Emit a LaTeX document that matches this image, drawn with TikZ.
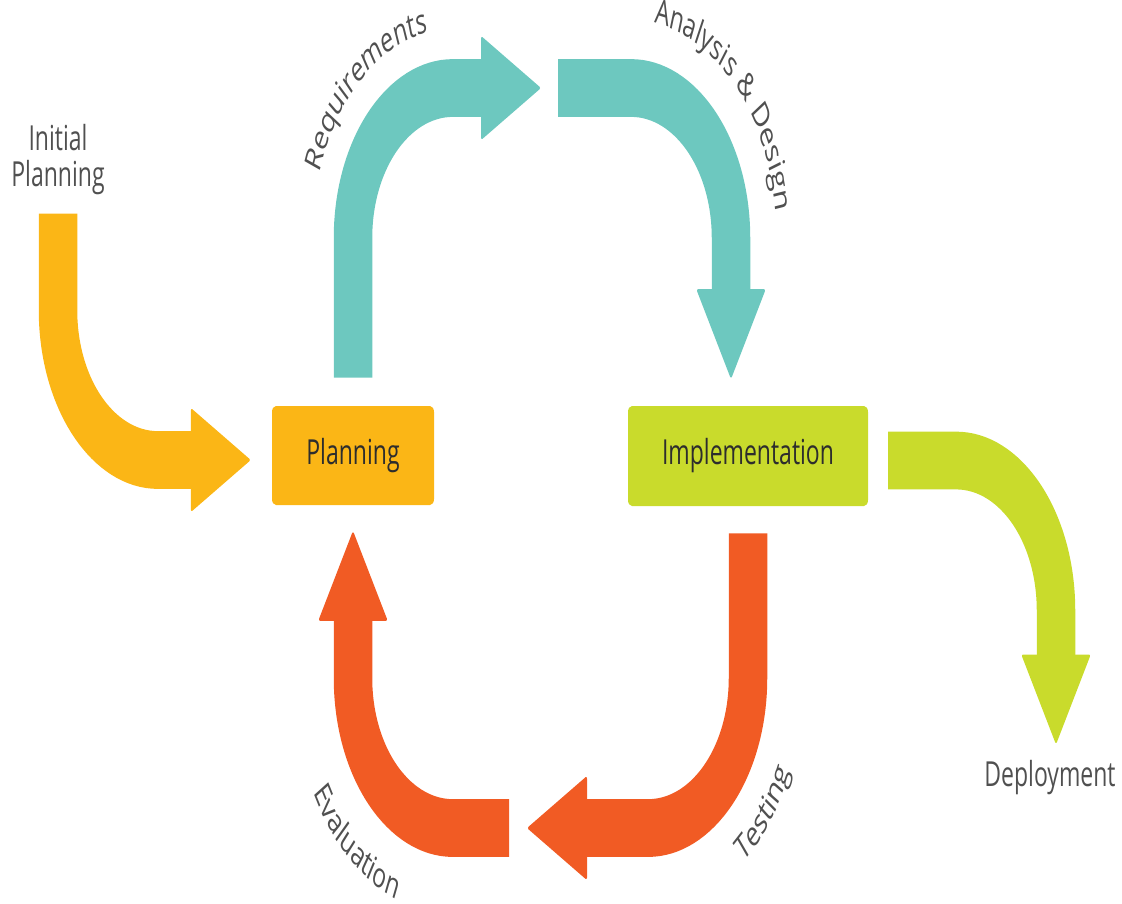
\documentclass[tikz,border=0pt]{standalone}
\usepackage{fontspec}
\setmainfont{Open Sans}
\usetikzlibrary{arrows.meta}
\definecolor{custom-yellow}{RGB}{251, 182, 22}
\definecolor{custom-teal}{RGB}{109, 200, 191}
\definecolor{custom-lime}{RGB}{201, 219, 44}
\definecolor{custom-orange}{RGB}{241, 91, 36}
\definecolor{custom-gray}{RGB}{80, 80, 80}
\definecolor{custom-dark}{RGB}{45, 45, 45}
\newcommand{\lblfont}{\fontsize{23}{27}\selectfont}
\newdimen\chrw
\newdimen\chrtot
% angle of each letter round an arc: list name, radius, middle angle, sense (+1 ccw, -1 cw), letters
\newcommand{\arcprep}[5]{%
  \global\chrtot=0pt
  \foreach \chr in {#5}{\settowidth{\chrw}{\lblfont\chr}\global\advance\chrtot by \chrw}%
  \pgfmathsetmacro{\chrstart}{#3-(#4)*0.5*\the\chrtot/#2*180/pi}%
  \xdef\chrang{\chrstart}%
  \gdef#1{}%
  \foreach \chr in {#5}{%
    \settowidth{\chrw}{\lblfont\chr}%
    \pgfmathsetmacro{\chrmid}{\chrang+(#4)*0.5*\the\chrw/#2*180/pi}%
    \pgfmathsetmacro{\chrnext}{\chrang+(#4)*\the\chrw/#2*180/pi}%
    \xdef\chrang{\chrnext}%
    \ifx#1\empty\xdef#1{\chrmid/\chr}\else\xdef#1{#1,\chrmid/\chr}\fi
  }%
}
\tikzset{
  bigarrow/.style={line width=38.5pt, rounded corners=100pt,
    -{Triangle[length=60pt, width=69pt, line width=2pt, round]}},
  stage/.style={rounded corners=4pt, inner sep=0pt, text=custom-dark,
    font=\fontsize{23}{27}\selectfont},
  plain/.style={inner sep=0pt, align=center, text=custom-gray,
    font=\fontsize{23}{24}\selectfont},
  arcchar/.style={inner sep=0pt, anchor=base, text=custom-gray, font=\lblfont}
}
\begin{document}
\arcprep{\reqlist}{139}{131}{-1}{R,e,q,u,i,r,e,m,e,n,t,s}
\arcprep{\analist}{145}{44}{-1}{A,n,a,l,y,s,i,s,\ ,\&,\ ,D,e,s,i,g,n}
\arcprep{\testlist}{157}{-37.5}{1}{T,e,s,t,i,n,g}
\arcprep{\evallist}{158}{229}{1}{E,v,a,l,u,a,t,i,o,n}
\begin{tikzpicture}[x=1pt, y=-0.6667pt]
\useasboundingbox (0pt,0pt) rectangle (1122pt,-904pt);
\begin{scope}[transform canvas={yscale=1.5}]
\node[stage, fill=custom-yellow, minimum width=162pt, minimum height=66pt] (plan) at (353,455.5) {Planning};
\node[stage, fill=custom-lime, minimum width=240pt, minimum height=66.7pt] (impl) at (748,456) {Implementation};
\node[plain] (init) at (58,160) {Initial\\Planning};
\node[plain] (depl) at (1050,777) {Deployment};
\coordinate (reqtip) at (540,88);
\coordinate (anastart) at (558,88);
\coordinate (testtip) at (528,828);
\coordinate (evalstart) at (509,828);

\draw[bigarrow, custom-yellow, shorten <=12pt, shorten >=22pt] (init) |- ([yshift=-3pt]plan.west);
\draw[bigarrow, custom-teal, shorten <=18.7pt] (plan) |- (reqtip);
\draw[bigarrow, custom-teal, shorten >=18.7pt] (anastart) -| ([xshift=-17pt]impl.north);
\draw[bigarrow, custom-lime, shorten <=20pt, shorten >=11pt] ([yshift=-3pt]impl.east) -| ([xshift=6pt]depl.north);
\draw[bigarrow, custom-orange, shorten <=18pt] (impl) |- (testtip);
\draw[bigarrow, custom-orange, shorten >=18pt] (evalstart) -| (plan);

% curved labels, one node per letter
\foreach \a/\c in \reqlist {\node[arcchar, rotate=\a-90] at ([shift={(\a:139pt)}]452,238) {\c};}
\foreach \a/\c in \analist {\node[arcchar, rotate=\a-90] at ([shift={(\a:145pt)}]632,238) {\c};}
\foreach \a/\c in \testlist {\node[arcchar, rotate=\a+90] at ([shift={(\a:157pt)}]646,678) {\c};}
\foreach \a/\c in \evallist {\node[arcchar, rotate=\a+90] at ([shift={(\a:158pt)}]452,678) {\c};}
\end{scope}
\end{tikzpicture}
\end{document}
